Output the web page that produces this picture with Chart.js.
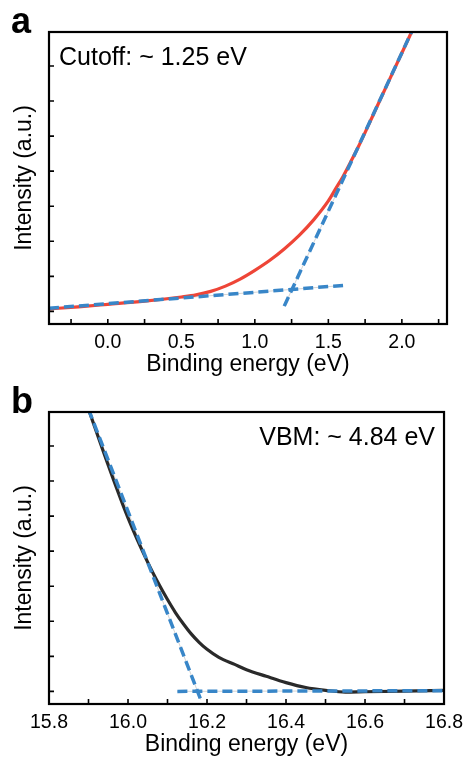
<!DOCTYPE html>
<html><head><meta charset="utf-8">
<script src="https://cdn.jsdelivr.net/npm/chart.js@4.4.1/dist/chart.umd.min.js"></script>
<style>
html,body{margin:0;padding:0;background:#fff;}
.wrap{position:absolute;left:0;width:470px;height:380px;}
</style></head><body>
<div class="wrap" style="top:0"><canvas id="chartA" width="470" height="380"></canvas></div>
<div class="wrap" style="top:380px"><canvas id="chartB" width="470" height="380"></canvas></div>
<script>
// ---- Panel a: secondary electron cutoff ----
const aEnergy    = [-0.40, -0.20, 0.00, 0.25, 0.50, 0.60, 0.70, 0.80, 0.90, 1.00, 1.10, 1.20, 1.30, 1.40, 1.50, 1.55, 1.60, 1.65, 1.70, 1.80, 1.90, 2.00, 2.08];
const aIntensity = [ 0.07,  0.13, 0.20, 0.29, 0.41, 0.47, 0.57, 0.72, 0.92, 1.17, 1.45, 1.78, 2.16, 2.61, 3.15, 3.50, 3.85, 4.25, 4.66, 5.56, 6.47, 7.37, 8.10];
const aBaseFitEnergy    = [-0.40, 1.60];
const aBaseFitIntensity = [ 0.09, 0.74];
const aEdgeFitEnergy    = [1.20, 2.08];
const aEdgeFitIntensity = [0.15, 8.10];
const aXTicks = [-0.25, 0.00, 0.25, 0.50, 0.75, 1.00, 1.25, 1.50, 1.75, 2.00, 2.25];
const aXLabelled = [0.0, 0.5, 1.0, 1.5, 2.0];

// ---- Panel b: valence band maximum ----
const bEnergy    = [15.90, 15.95, 16.00, 16.05, 16.08, 16.10, 16.12, 16.14, 16.16, 16.18, 16.20, 16.23, 16.27, 16.30, 16.35, 16.40, 16.45, 16.50, 16.55, 16.60, 16.70, 16.80];
const bIntensity = [ 8.05,  6.45,  4.95,  3.68,  3.02,  2.62,  2.25,  1.93,  1.64,  1.40,  1.20,  0.97,  0.77,  0.62,  0.43,  0.25,  0.11,  0.03, -0.02, -0.01,  0.01,  0.03];
const bBaseFitEnergy    = [16.125, 16.80];
const bBaseFitIntensity = [ 0.00,  0.02];
const bEdgeFitEnergy    = [15.90, 16.184];
const bEdgeFitIntensity = [ 8.05, -0.23];
const bXTicks = [15.8, 15.9, 16.0, 16.1, 16.2, 16.3, 16.4, 16.5, 16.6, 16.7, 16.8];
const bXLabelled = [15.8, 16.0, 16.2, 16.4, 16.6, 16.8];

const yTicks = [0, 1, 2, 3, 4, 5, 6, 7];

const FONT = '"Liberation Sans", Arial, Helvetica, sans-serif';
const RED = '#ee4537', BLUE = '#3886c8', BLACK = '#2a2a2a', GREY = '#d4d4d4';

const pts = (xs, ys) => xs.map((v, i) => ({x: v, y: ys[i]}));

const framePlugin = {
  id: 'frame',
  afterDatasetsDraw(chart, args, opts) {
    const {ctx, chartArea: ca, scales: {x, y}} = chart;
    ctx.save();
    ctx.strokeStyle = '#000';
    ctx.lineWidth = 1.6;
    ctx.beginPath();
    x.ticks.forEach(t => {
      const px = x.getPixelForValue(t.value);
      ctx.moveTo(px, ca.bottom); ctx.lineTo(px, ca.bottom - 5);
    });
    y.ticks.forEach(t => {
      const py = y.getPixelForValue(t.value);
      ctx.moveTo(ca.left, py); ctx.lineTo(ca.left + 5, py);
    });
    ctx.stroke();
    ctx.lineWidth = 2.2;
    ctx.strokeRect(ca.left, ca.top, ca.width, ca.height);
    ctx.fillStyle = '#000';
    ctx.textBaseline = 'alphabetic';
    ctx.textAlign = 'left';
    ctx.font = 'bold 36px ' + FONT;
    ctx.fillText(opts.letter, 11, 33);
    ctx.font = '25px ' + FONT;
    ctx.textAlign = opts.noteAlign;
    ctx.fillText(opts.note, opts.noteX, opts.noteY);
    ctx.restore();
  }
};

function makeChart(id, cfg) {
  return new Chart(document.getElementById(id), {
    type: 'line',
    data: {
      datasets: [
        {data: pts(cfg.edgeX, cfg.edgeY), borderColor: BLUE, borderWidth: 3.5, borderDash: [10, 5], pointRadius: 0, tension: 0},
        {data: pts(cfg.baseX, cfg.baseY), borderColor: BLUE, borderWidth: 3.5, borderDash: [10, 5], pointRadius: 0, tension: 0},
        {data: pts(cfg.curveX, cfg.curveY), borderColor: cfg.curveColor, borderWidth: 3.2, pointRadius: 0, cubicInterpolationMode: 'monotone'},
        {data: pts(cfg.edgeX, cfg.edgeY), borderColor: GREY, borderWidth: 1, pointRadius: 0, tension: 0},
        {data: pts(cfg.baseX, cfg.baseY), borderColor: GREY, borderWidth: 1, pointRadius: 0, tension: 0}
      ]
    },
    options: {
      responsive: false,
      animation: false,
      devicePixelRatio: 1,
      layout: {padding: {top: 32, right: 23, bottom: 0, left: 0}},
      plugins: {
        legend: {display: false},
        tooltip: {enabled: false},
        frame: {letter: cfg.letter, note: cfg.note, noteAlign: cfg.noteAlign, noteX: cfg.noteX, noteY: cfg.noteY}
      },
      scales: {
        x: {
          type: 'linear',
          min: cfg.xMin, max: cfg.xMax,
          grid: {display: false, drawTicks: false},
          border: {display: false},
          afterBuildTicks: s => { s.ticks = cfg.xTicks.map(v => ({value: v})); },
          afterFit: s => { s.height = 56; },
          ticks: {
            autoSkip: false, maxRotation: 0, padding: 7,
            color: '#000', font: {family: FONT, size: 19.5},
            callback: v => cfg.xLabelled.some(l => Math.abs(l - v) < 1e-6) ? v.toFixed(1) : ''
          },
          title: {display: true, text: 'Binding energy (eV)', color: '#000', font: {family: FONT, size: 23}, padding: {top: 0, bottom: 2}}
        },
        y: {
          min: -0.36, max: 7.97,
          grid: {display: false, drawTicks: false},
          border: {display: false},
          afterBuildTicks: s => { s.ticks = yTicks.map(v => ({value: v})); },
          afterFit: s => { s.width = 49; },
          ticks: {display: false},
          title: {display: true, text: 'Intensity (a.u.)', color: '#000', font: {family: FONT, size: 23}, padding: {top: 11, bottom: 0}}
        }
      }
    },
    plugins: [framePlugin]
  });
}

makeChart('chartA', {
  curveX: aEnergy, curveY: aIntensity, curveColor: RED,
  baseX: aBaseFitEnergy, baseY: aBaseFitIntensity,
  edgeX: aEdgeFitEnergy, edgeY: aEdgeFitIntensity,
  xMin: -0.40, xMax: 2.307, xTicks: aXTicks, xLabelled: aXLabelled,
  letter: 'a', note: 'Cutoff: ~ 1.25 eV', noteAlign: 'left', noteX: 59, noteY: 65
});
makeChart('chartB', {
  curveX: bEnergy, curveY: bIntensity, curveColor: BLACK,
  baseX: bBaseFitEnergy, baseY: bBaseFitIntensity,
  edgeX: bEdgeFitEnergy, edgeY: bEdgeFitIntensity,
  xMin: 15.8, xMax: 16.8, xTicks: bXTicks, xLabelled: bXLabelled,
  letter: 'b', note: 'VBM: ~ 4.84 eV', noteAlign: 'right', noteX: 435, noteY: 65
});
</script>
</body></html>
